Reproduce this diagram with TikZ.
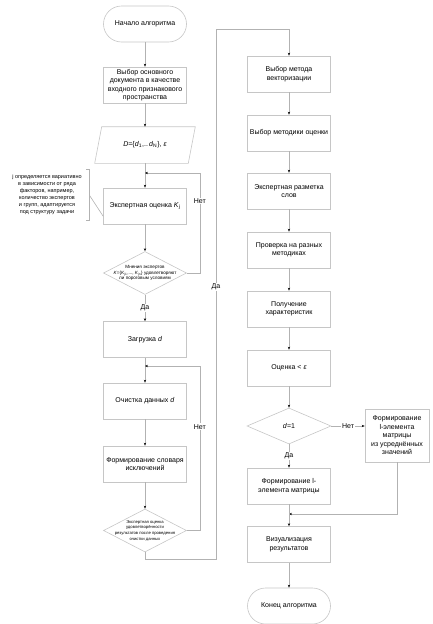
\documentclass[tikz,border=0pt]{standalone}
\usepackage{fontspec}
\setmainfont{Liberation Sans}
\usetikzlibrary{shapes.geometric,arrows.meta}
\newcommand{\dtext}[2][4.2]{\makebox[0pt]{\fontsize{#1}{5.6}\selectfont\begin{tabular}{@{}c@{}}#2\end{tabular}}}

\begin{document}
\begin{tikzpicture}[x=1pt, y=-1pt, line width=0.6pt,
  box/.style={rectangle, draw=gray!45, minimum width=83pt, minimum height=36pt, align=center, inner sep=1pt, font=\fontsize{7}{8.5}\selectfont},
  term/.style={box, rounded corners=18pt},
  cond/.style={diamond, draw=gray!45, minimum width=83pt, minimum height=43pt, inner sep=0pt, font=\fontsize{7}{8.5}\selectfont},
  notetext/.style={align=center, minimum width=84pt, minimum height=50pt, inner sep=0pt, font=\fontsize{5.5}{7}\selectfont},
  lbl/.style={fill=white, inner sep=1pt, font=\fontsize{7}{8.5}\selectfont},
  ln/.style={draw=gray!60},
  arr/.style={draw=gray!60, -{Stealth[length=3pt, width=2.4pt, color=black]}}]
  \useasboundingbox (0,0) rectangle (432,624);

  % left column
  \node[term] (start) at (145,24) {Начало алгоритма};
  \node[box] (choice) at (145,85) {Выбор основного\\документа в качестве\\входного признакового\\пространства};
  \node[box, draw=none, minimum width=100pt] (io) at (145,145) {\textit{D}=\{\textit{d}\textsubscript{1},..\,\textit{d}\textsubscript{N}\}, \textit{ε}};
  \node[box] (expert) at (145,206) {Экспертная оценка \textit{K}\textsubscript{j}};
  \node[notetext] (note) at (47,195) {j определяется вариативно\\в зависимости от ряда\\факторов, например,\\количество экспертов\\и групп, адаптируется\\под структуру задачи};
  \node[cond] (dec1) at (145,273) {\dtext[4.6]{Мнения экспертов\\\textit{K}=\{\textit{K}\textsubscript{j1},..., \textit{K}\textsubscript{jn}\} удовлетворяют\\ли пороговым условиям}};
  \node[box] (load) at (145,339.5) {Загрузка \textit{d}};
  \node[box] (clean) at (145,401) {Очистка данных \textit{d}};
  \node[box] (dict) at (145,464) {Формирование словаря\\исключений};
  \node[cond] (dec2) at (145,530.5) {\dtext{Экспертная оценка\\удовлетворённости\\результатов после проведения\\очистки данных}};

  % right column
  \node[box] (vec) at (289,74) {Выбор метода\\векторизации};
  \node[box] (meth) at (289,133) {Выбор методики оценки};
  \node[box] (mark) at (289,191) {Экспертная разметка\\слов};
  \node[box] (check) at (289,250) {Проверка на разных\\методиках};
  \node[box] (feat) at (289,309) {Получение\\характеристик};
  \node[box] (est) at (289,368) {Оценка < \textit{ε}};
  \node[cond, minimum width=84pt, minimum height=36pt] (dec3) at (289,426) {\textit{d}=1};
  \node[box, minimum width=64pt, minimum height=53pt] (side) at (397,435.5) {Формирование\\l-элемента\\матрицы\\из усреднённых\\значений};
  \node[box] (mtx) at (289,486) {Формирование l-\\элемента матрицы};
  \node[box] (viz) at (289,544.5) {Визуализация\\результатов};
  \node[term] (finish) at (289,606) {Конец алгоритма};

  \coordinate (j1) at (145,173);
  \coordinate (j2) at (145,366);
  \coordinate (c1) at (216,559);
  \coordinate (c2) at (216,29);
  \coordinate (j3) at (289,514);

  % parallelogram and note bracket
  \draw[draw=gray!45] ([xshift=7pt]io.north west) -- (io.north east) -- ([xshift=-7pt]io.south east) -- (io.south west) -- cycle;
  \draw[ln] ([xshift=-3pt]note.north east) -- (note.north east) -- (note.south east) -- ([xshift=-3pt]note.south east);
  \draw[ln] (note.east) -- ([yshift=8pt]expert.south west);

  \draw[arr] (start) -- (choice); \draw[arr] (choice) -- (io.north); \draw[arr] (io.south) -- (expert);
  \draw[arr] (expert) -- (dec1); \draw[arr] (dec1) -- node[lbl]{Да} (load);
  \draw[arr] (dec1.east) -- ++(13,0) |- node[lbl, pos=0.36]{Нет} (j1);
  \draw[arr] (load) -- (clean); \draw[arr] (clean) -- (dict); \draw[arr] (dict) -- (dec2);
  \draw[arr] (dec2.east) -- ++(13,0) |- node[lbl, pos=0.315]{Нет} (j2);
  \draw[arr] (dec2.south) |- (c1) -- node[lbl, pos=0.513]{Да} (c2) -| (vec.north);

  \draw[arr] (vec) -- (meth); \draw[arr] (meth) -- (mark); \draw[arr] (mark) -- (check);
  \draw[arr] (check) -- (feat); \draw[arr] (feat) -- (est); \draw[arr] (est) -- (dec3);
  \draw[arr] (dec3.east) -- node[lbl]{Нет} (dec3.east -| side.west);
  \draw[arr] (dec3) -- node[lbl]{Да} (mtx);
  \draw[arr] (side.south) |- (j3);
  \draw[arr] (mtx) -- (viz); \draw[arr] (viz) -- (finish);
\end{tikzpicture}
\end{document}
